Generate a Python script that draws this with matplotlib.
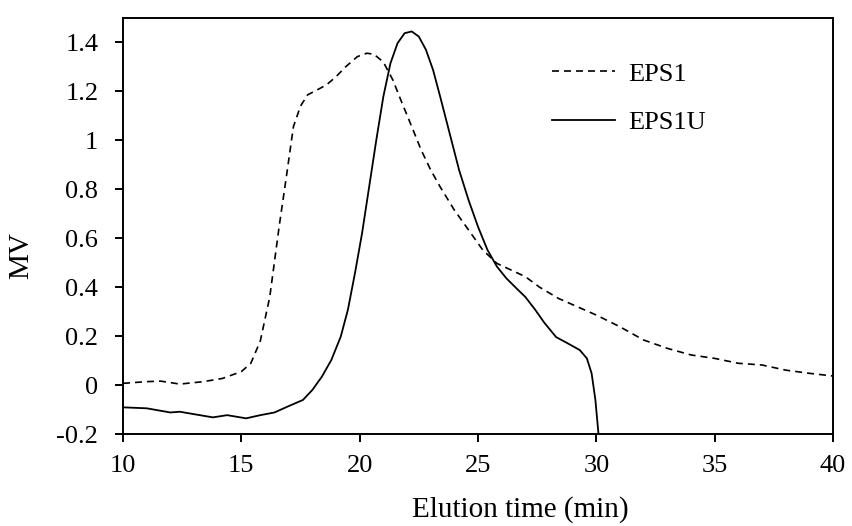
import matplotlib
matplotlib.use("Agg")
import matplotlib.pyplot as plt

plt.rcParams['font.family'] = ['Liberation Serif', 'DejaVu Serif']

# elution time (min) / signal (MV)
eps1_t = [10, 11, 11.6, 12.4, 13.4, 14.2, 15, 15.4, 15.8, 16.2, 16.6, 16.9, 17.2, 17.5,
          17.8, 18.2, 18.6, 19.0, 19.4, 19.9, 20.3, 20.6, 21.0, 21.4, 21.8, 22.2, 22.6,
          23.0, 23.4, 24.0, 24.6, 25.2, 25.8, 26.4, 27.0, 27.6, 28.4, 29.2, 30.0, 31.0,
          32.0, 33.0, 34.0, 35.0, 36.0, 37.0, 38.0, 39.0, 40.0]
eps1_v = [0.007, 0.014, 0.016, 0.004, 0.014, 0.027, 0.055, 0.089, 0.18, 0.36, 0.65, 0.85,
          1.056, 1.14, 1.186, 1.206, 1.227, 1.26, 1.30, 1.342, 1.356, 1.352, 1.32, 1.247,
          1.15, 1.056, 0.96, 0.879, 0.81, 0.715, 0.634, 0.552, 0.497, 0.47, 0.443, 0.40,
          0.354, 0.32, 0.286, 0.238, 0.184, 0.15, 0.123, 0.109, 0.089, 0.082, 0.061,
          0.048, 0.037]

eps1u_t = [10, 11, 12, 12.4, 13, 13.8, 14.4, 15.2, 15.8, 16.4, 17.0, 17.6, 18.0, 18.4,
           18.8, 19.2, 19.5, 19.8, 20.1, 20.4, 20.7, 21.0, 21.3, 21.6, 21.9, 22.2, 22.5,
           22.8, 23.1, 23.4, 23.8, 24.2, 24.6, 25.0, 25.4, 25.8, 26.2, 26.7, 27.0, 27.4,
           27.8, 28.3, 28.8, 29.3, 29.6, 29.8, 29.96, 30.1]
eps1u_v = [-0.091, -0.095, -0.112, -0.109, -0.119, -0.132, -0.123, -0.136, -0.123, -0.112,
           -0.086, -0.061, -0.02, 0.034, 0.102, 0.198, 0.307, 0.457, 0.62, 0.81, 1.0,
           1.179, 1.315, 1.397, 1.438, 1.445, 1.424, 1.37, 1.288, 1.179, 1.029, 0.879,
           0.756, 0.647, 0.552, 0.484, 0.436, 0.388, 0.36, 0.31, 0.255, 0.196, 0.17,
           0.143, 0.109, 0.048, -0.061, -0.21]

xticks = [10, 15, 20, 25, 30, 35, 40]
yticks = [-0.2, 0, 0.2, 0.4, 0.6, 0.8, 1.0, 1.2, 1.4]
ytick_labels = ["-0.2", "0", "0.2", "0.4", "0.6", "0.8", "1", "1.2", "1.4"]

fig = plt.figure(figsize=(8.52, 5.26), dpi=100)
ax = fig.add_axes([0.1444, 0.1749, 0.8333, 0.7909])

ax.plot(eps1_t, eps1_v, color='black', lw=1.2, linestyle=(0, (4.2, 3.0)), label='EPS1')
ax.plot(eps1u_t, eps1u_v, color='black', lw=1.3, label='EPS1U')

ax.set_xlim(10, 40)
ax.set_ylim(-0.2, 1.5)
ax.set_xticks(xticks)
ax.set_xticklabels([str(t) for t in xticks])
ax.set_yticks(yticks)
ax.set_yticklabels(ytick_labels)

for s in ax.spines.values():
    s.set_linewidth(1.4)
ax.tick_params(axis='both', direction='out', length=5.8, width=1.4, labelsize=19)
ax.tick_params(axis='y', pad=12)
ax.tick_params(axis='x', pad=9)

ax.set_xlabel("Elution time (min)", fontsize=21)
ax.set_ylabel("MV", fontsize=21)
ax.xaxis.set_label_coords(0.559, -0.15)
ax.yaxis.set_label_coords(-0.125, 0.428)

ax.legend(loc='upper left', bbox_to_anchor=(0.604, 0.894), frameon=False, fontsize=19,
          handlelength=2.4, handletextpad=0.5, labelspacing=0.95,
          borderpad=0, borderaxespad=0)

fig.savefig("out.png", dpi=100)
